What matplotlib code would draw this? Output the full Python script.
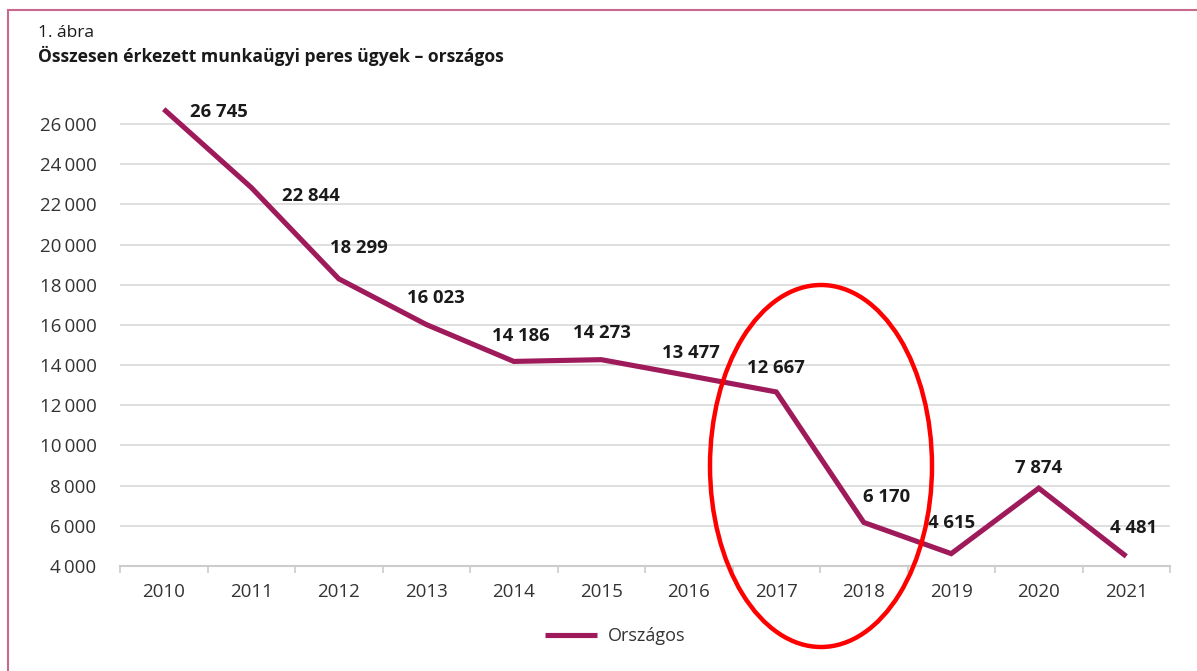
import matplotlib
matplotlib.use("Agg")
import matplotlib.pyplot as plt
from matplotlib.patches import Ellipse
from matplotlib.lines import Line2D

years = ["2010", "2011", "2012", "2013", "2014", "2015", "2016", "2017", "2018", "2019", "2020", "2021"]
values = [26745, 22844, 18299, 16023, 14186, 14273, 13477, 12667, 6170, 4615, 7874, 4481]
value_labels = ["26 745", "22 844", "18 299", "16 023", "14 186", "14 273", "13 477", "12 667", "6 170", "4 615", "7 874", "4 481"]
y_ticks = [4000, 6000, 8000, 10000, 12000, 14000, 16000, 18000, 20000, 22000, 24000, 26000]
y_tick_labels = ["4\u2009000", "6\u2009000", "8\u2009000", "10\u2009000", "12\u2009000", "14\u2009000",
                 "16\u2009000", "18\u2009000", "20\u2009000", "22\u2009000", "24\u2009000", "26\u2009000"]
series_name = "Országos"
fig_label = "1. ábra"
title = "Összesen érkezett munkaügyi peres ügyek – országos"

# label offsets in pixels (style only)
offsets = [(55, -3), (60, -8), (20, 31), (10, 27), (7, 25), (1, 27), (2, 23), (0, 24), (23, 25), (0, 31), (0, 20), (7, 28)]

plt.rcParams['font.family'] = ['Open Sans', 'DejaVu Sans']

LINE = '#9e1a5a'
TXT = '#333333'

fig = plt.figure(figsize=(11.97, 6.71), dpi=100)
ax = fig.add_axes([120/1197, 1-566/671, 1050/1197, (566-94)/671])

x = list(range(len(years)))
ax.plot(x, values, color=LINE, lw=3.7, solid_capstyle='butt', solid_joinstyle='miter', label=series_name, zorder=3)

for xi, v, lab, (dx, dy) in zip(x, values, value_labels, offsets):
    ax.annotate(lab, (xi, v), xytext=(dx, dy), textcoords='offset pixels',
                ha='center', va='center', fontsize=13.3, fontweight='bold', color='#1a1a1a')

ax.set_xlim(-0.5, len(years) - 0.5)
ax.set_ylim(4000, 27500)
ax.set_yticks(y_ticks)
ax.set_yticklabels(y_tick_labels)
ax.set_xticks(x)
ax.set_xticklabels(years)
ax.set_xticks([i - 0.5 for i in range(len(years) + 1)], minor=True)
ax.tick_params(axis='x', which='major', length=0, pad=12, labelsize=13.5, labelcolor=TXT)
ax.tick_params(axis='x', which='minor', length=5, color='#cccccc', width=1.2)
ax.tick_params(axis='y', length=0, pad=17, labelsize=13.5, labelcolor=TXT)
for s in ['top', 'right', 'left']:
    ax.spines[s].set_visible(False)
ax.spines['bottom'].set_color('#cccccc')
ax.spines['bottom'].set_linewidth(1.5)
ax.grid(axis='y', color='#dcdcdc', lw=1.3)
ax.set_axisbelow(True)

fig.legend(loc='center', bbox_to_anchor=(615/1197, 1-636/671), frameon=False,
           fontsize=13, handlelength=2.9, handletextpad=0.6, labelcolor=TXT)

fig.text(38/1197, 1-33/671, fig_label, fontsize=12.5, va='center', ha='left', color='#1a1a1a')
fig.text(38/1197, 1-56/671, title, fontsize=12.6, fontweight='bold', va='center', ha='left', color='#1a1a1a')

# frame lines
fig.add_artist(Line2D([8/1197, 1.0], [1-10/671, 1-10/671], transform=fig.transFigure, color='#c76a8e', lw=1.5))
fig.add_artist(Line2D([8/1197, 8/1197], [0, 1-10/671], transform=fig.transFigure, color='#c76a8e', lw=1.5))

# red ellipse highlight
fig.add_artist(Ellipse((821/1197, 1-466/671), 222/1197, 362/671, transform=fig.transFigure,
                       fill=False, edgecolor='#ff0000', lw=3.2, zorder=10))

fig.savefig('out.png', dpi=100)
